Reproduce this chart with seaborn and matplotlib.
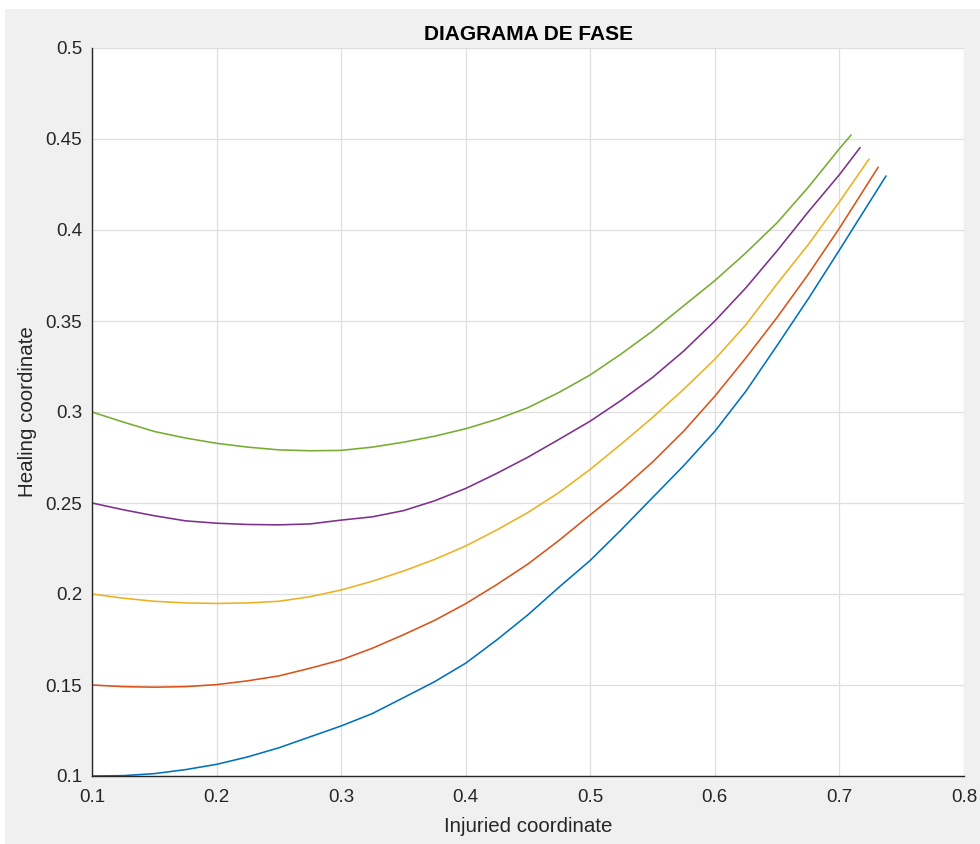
import matplotlib
matplotlib.use("Agg")
import matplotlib.pyplot as plt
from matplotlib.patches import Rectangle
import seaborn as sns
import pandas as pd

# ---- data ----
x_grid = [0.1, 0.125, 0.15, 0.175, 0.2, 0.225, 0.25, 0.275, 0.3, 0.325, 0.35, 0.375,
          0.4, 0.425, 0.45, 0.475, 0.5, 0.525, 0.55, 0.575, 0.6, 0.625, 0.65, 0.675, 0.7]

x_blue = x_grid + [0.7374]
y_blue = [0.1, 0.1002, 0.1013, 0.1035, 0.1064, 0.1105, 0.1155, 0.1215, 0.1275, 0.1343,
          0.1430, 0.1518, 0.1620, 0.1748, 0.1886, 0.2038, 0.2185, 0.2354, 0.2530, 0.2705,
          0.2894, 0.3115, 0.3366, 0.3622, 0.3890, 0.4297]

x_orange = x_grid + [0.7311]
y_orange = [0.15, 0.1491, 0.1488, 0.1491, 0.1502, 0.1523, 0.1550, 0.1592, 0.1638, 0.1702,
            0.1776, 0.1855, 0.1947, 0.2052, 0.2165, 0.2295, 0.2435, 0.2573, 0.2725, 0.2895,
            0.3087, 0.3298, 0.3520, 0.3757, 0.4010, 0.4345]

x_yellow = x_grid + [0.7238]
y_yellow = [0.2, 0.1977, 0.1960, 0.1951, 0.1948, 0.1951, 0.1960, 0.1985, 0.2022, 0.2070,
            0.2126, 0.2190, 0.2264, 0.2352, 0.2448, 0.2558, 0.2685, 0.2825, 0.2970, 0.3125,
            0.3290, 0.3480, 0.3705, 0.3920, 0.4155, 0.4390]

x_purple = x_grid + [0.7166]
y_purple = [0.25, 0.2463, 0.2430, 0.2402, 0.2389, 0.2382, 0.2380, 0.2385, 0.2406, 0.2424,
            0.2458, 0.2512, 0.2580, 0.2663, 0.2752, 0.2850, 0.2950, 0.3065, 0.3190, 0.3335,
            0.3500, 0.3683, 0.3886, 0.4100, 0.4304, 0.4453]

x_green = x_grid + [0.7094]
y_green = [0.3, 0.2945, 0.2893, 0.2857, 0.2828, 0.2807, 0.2792, 0.2787, 0.2789, 0.2807,
           0.2834, 0.2867, 0.2908, 0.2960, 0.3024, 0.3108, 0.3204, 0.3320, 0.3445, 0.3584,
           0.3722, 0.3875, 0.4040, 0.4235, 0.4447, 0.4522]

series_names = ["y0=0.10", "y0=0.15", "y0=0.20", "y0=0.25", "y0=0.30"]
series_x = [x_blue, x_orange, x_yellow, x_purple, x_green]
series_y = [y_blue, y_orange, y_yellow, y_purple, y_green]
colors = ["#0072BD", "#D95319", "#EDB120", "#7E2F8E", "#77AC30"]

x_ticks = [0.1, 0.2, 0.3, 0.4, 0.5, 0.6, 0.7, 0.8]
x_tick_labels = ["0.1", "0.2", "0.3", "0.4", "0.5", "0.6", "0.7", "0.8"]
y_ticks = [0.1, 0.15, 0.2, 0.25, 0.3, 0.35, 0.4, 0.45, 0.5]
y_tick_labels = ["0.1", "0.15", "0.2", "0.25", "0.3", "0.35", "0.4", "0.45", "0.5"]

title = "DIAGRAMA DE FASE"
xlabel = "Injuried coordinate"
ylabel = "Healing coordinate"

rows = []
for name, xs, ys in zip(series_names, series_x, series_y):
    for xv, yv in zip(xs, ys):
        rows.append({"serie": name, "x": xv, "y": yv})
df = pd.DataFrame(rows)

# ---- style ----
sns.set_theme(style="white")
plt.rcParams["font.family"] = ["Liberation Sans", "DejaVu Sans"]

W, H, DPI = 980, 844, 100
fig = plt.figure(figsize=(W / DPI, H / DPI), dpi=DPI, facecolor="white")
fig.patches.append(Rectangle((5 / W, 0), 1 - 5 / W, (H - 9) / H,
                             transform=fig.transFigure, facecolor="#f0f0f0",
                             edgecolor="none", zorder=-10))

left, right, bottom, top = 92 / W, 964 / W, (H - 776) / H, (H - 48) / H
ax = fig.add_axes([left, bottom, right - left, top - bottom])
ax.set_facecolor("white")

sns.lineplot(data=df, x="x", y="y", hue="serie", palette=colors,
             hue_order=series_names, estimator=None, sort=False,
             units="serie", legend=False, linewidth=1.15, ax=ax)

ax.set_xlim(0.1, 0.8)
ax.set_ylim(0.1, 0.5)
ax.set_xticks(x_ticks)
ax.set_xticklabels(x_tick_labels)
ax.set_yticks(y_ticks)
ax.set_yticklabels(y_tick_labels)

ax.grid(True, color="#dfdfdf", linewidth=0.9)
ax.set_axisbelow(True)

for s in ["top", "right"]:
    ax.spines[s].set_visible(False)
for s in ["left", "bottom"]:
    ax.spines[s].set_color("#262626")
    ax.spines[s].set_linewidth(1.0)

ax.tick_params(axis="both", direction="in", length=6.5, width=1.0,
               color="#262626", labelcolor="#262626", labelsize=13.5)
ax.tick_params(axis="x", pad=9)
ax.tick_params(axis="y", pad=7)

ax.set_title(title, fontsize=15, fontweight="bold", color="black", pad=6)
ax.set_xlabel(xlabel, fontsize=14.8, color="#262626", labelpad=8.5)
ax.set_ylabel(ylabel, fontsize=14.8, color="#262626", labelpad=6)

fig.savefig("out.png", dpi=DPI, facecolor=fig.get_facecolor())
